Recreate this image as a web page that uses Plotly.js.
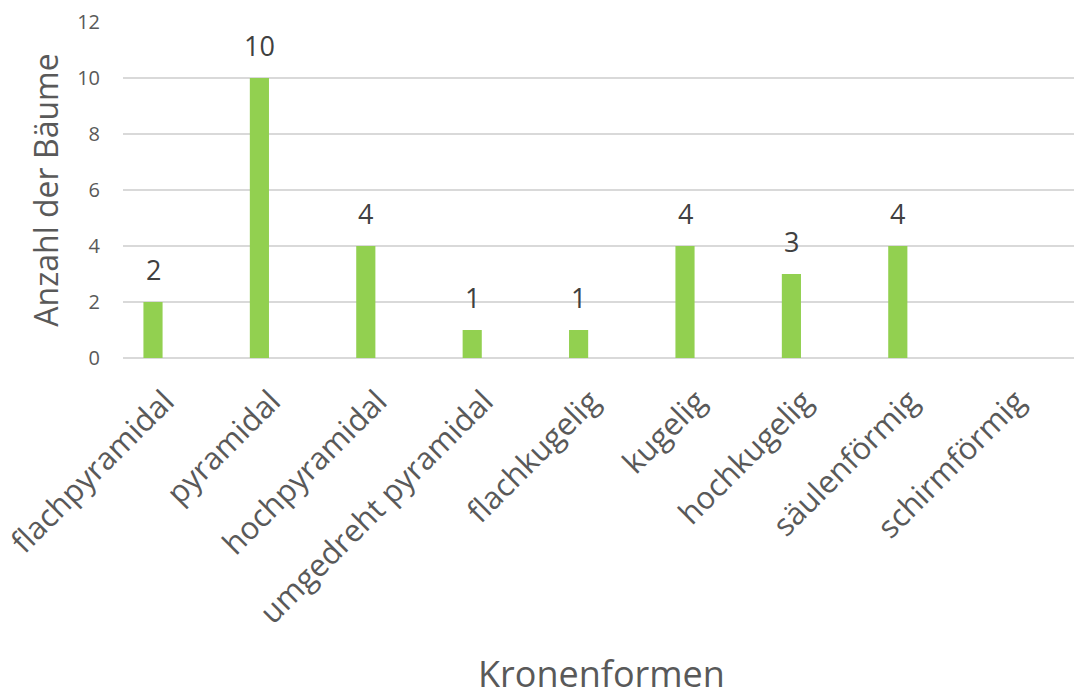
<!DOCTYPE html>
<html>
<head>
<meta charset="utf-8">
<script src="https://cdn.plot.ly/plotly-3.0.1.min.js"></script>
<style>
html,body{margin:0;padding:0;background:#fff;}
#chart{width:1074px;height:699px;}
</style>
</head>
<body>
<div id="chart"></div>
<script>
const categories = ["flachpyramidal","pyramidal","hochpyramidal","umgedreht pyramidal","flachkugelig","kugelig","hochkugelig","säulenförmig","schirmförmig"];
const counts = [2,10,4,1,1,4,3,4,0];
const yTicks = [0,2,4,6,8,10,12];
const xTitle = "Kronenformen";
const yTitle = "Anzahl der Bäume";

const FONT = "Open Sans, sans-serif";

const annotations = categories.map((c, i) => counts[i] > 0 ? {
  x: c, y: counts[i], xref: "x", yref: "y",
  text: String(counts[i]), showarrow: false,
  yanchor: "bottom", yshift: 12,
  font: {family: FONT, size: 27, color: "#404040"}
} : null).filter(a => a);

annotations.push({
  xref: "paper", yref: "paper", x: 0.5, y: 0, yanchor: "bottom", xanchor: "center",
  yshift: -341, xshift: 3, borderpad: 0,
  text: xTitle, showarrow: false,
  font: {family: FONT, size: 36, color: "#595959"}
});

Plotly.newPlot("chart", [{
  type: "bar",
  x: categories,
  y: counts,
  marker: {color: "#92D050"},
  width: 0.18,
  hoverinfo: "skip"
}], {
  width: 1074,
  height: 699,
  margin: {l: 123, r: 0, t: 22, b: 341},
  paper_bgcolor: "#fff",
  plot_bgcolor: "#fff",
  showlegend: false,
  annotations: annotations,
  xaxis: {
    type: "category",
    range: [-0.282, 8.656],
    tickangle: -45,
    tickfont: {family: FONT, size: 31, color: "#595959"},
    showgrid: false,
    zeroline: false,
    showline: false,
    ticks: "",
    ticklabelstandoff: 18,
    ticklabelshift: 12
  },
  yaxis: {
    range: [0, 12],
    tickvals: yTicks,
    tickfont: {family: FONT, size: 20, color: "#595959"},
    showgrid: true,
    gridcolor: "#D9D9D9",
    gridwidth: 1.5,
    zeroline: true,
    zerolinecolor: "#D9D9D9",
    zerolinewidth: 1.5,
    showline: false,
    ticks: "",
    ticklabelstandoff: 22,
    title: {text: yTitle, font: {family: FONT, size: 32, color: "#595959"}, standoff: 8}
  }
}, {displayModeBar: false, staticPlot: true});
</script>
</body>
</html>
